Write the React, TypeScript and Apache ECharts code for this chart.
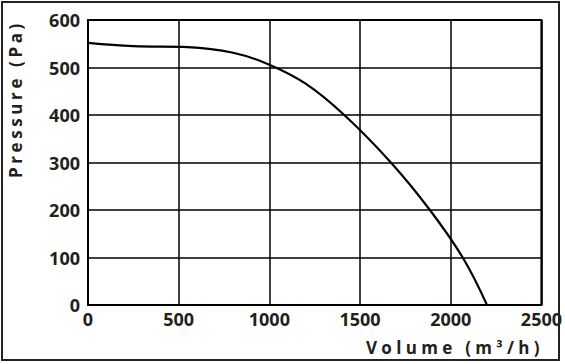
import React, { useEffect, useRef } from "react";
import * as echarts from "echarts";

const volumes = [0, 250, 550, 800, 1000, 1200, 1413, 1670, 1885, 2066, 2200];
const pressures = [552, 545, 543, 531, 506, 466, 400, 300, 200, 100, 0];
const xTicks = [0, 500, 1000, 1500, 2000, 2500];
const yTicks = [0, 100, 200, 300, 400, 500, 600];
const xName = "Volume (m³/h)";
const yName = "Pressure (Pa)";

const FONT = '"Open Sans", "Noto Sans", sans-serif';
const INK = "#231f20";

export default function App() {
  const ref = useRef<HTMLDivElement>(null);
  useEffect(() => {
    if (!ref.current) return;
    const chart = echarts.init(ref.current, undefined, { renderer: "svg" });
    chart.setOption({
      animation: false,
      backgroundColor: "#fff",
      grid: { left: 88, right: 22, top: 20, bottom: 59, show: true, borderColor: "#000", borderWidth: 2, backgroundColor: "transparent" },
      xAxis: {
        type: "value",
        min: xTicks[0],
        max: xTicks[xTicks.length - 1],
        interval: 500,
        axisLine: { show: false },
        axisTick: { show: false },
        axisLabel: { color: INK, fontFamily: FONT, fontWeight: "bold", fontSize: 18, margin: 5, formatter: (v: number) => String(v) },
        splitLine: { show: true, lineStyle: { color: "#000", width: 1.5 } },
      },
      yAxis: {
        type: "value",
        min: yTicks[0],
        max: yTicks[yTicks.length - 1],
        interval: 100,
        axisLine: { show: false },
        axisTick: { show: false },
        axisLabel: { color: INK, fontFamily: FONT, fontWeight: "bold", fontSize: 18, margin: 8, formatter: (v: number) => String(v) },
        splitLine: { show: true, lineStyle: { color: "#000", width: 1.5 } },
      },
      series: [
        {
          type: "line",
          data: volumes.map((v, i) => [v, pressures[i]]),
          smooth: 0.4,
          symbol: "none",
          lineStyle: { color: "#000", width: 2.2 },
        },
      ],
      graphic: [
        { type: "rect", shape: { x: 2, y: 2, width: 557, height: 358 }, style: { fill: "none", stroke: "#222", lineWidth: 2 }, silent: true },
        {
          type: "text",
          x: 366,
          y: 347,
          style: { text: xName, font: `bold 17px ${FONT}`, fill: INK, textAlign: "left", textVerticalAlign: "middle" },
        },
        {
          type: "text",
          x: 15,
          y: 178,
          rotation: Math.PI / 2,
          style: { text: yName, font: `bold 17px ${FONT}`, fill: INK, textAlign: "left", textVerticalAlign: "middle" },
        },
      ],
    });
    const texts = ref.current.querySelectorAll("text");
    texts.forEach((t) => {
      if (t.textContent === xName) t.setAttribute("letter-spacing", "4.3px");
      if (t.textContent === yName) t.setAttribute("letter-spacing", "3.6px");
    });
    return () => chart.dispose();
  }, []);
  return <div ref={ref} style={{ width: 565, height: 364, position: "absolute", left: 0, top: 0 }} />;
}
